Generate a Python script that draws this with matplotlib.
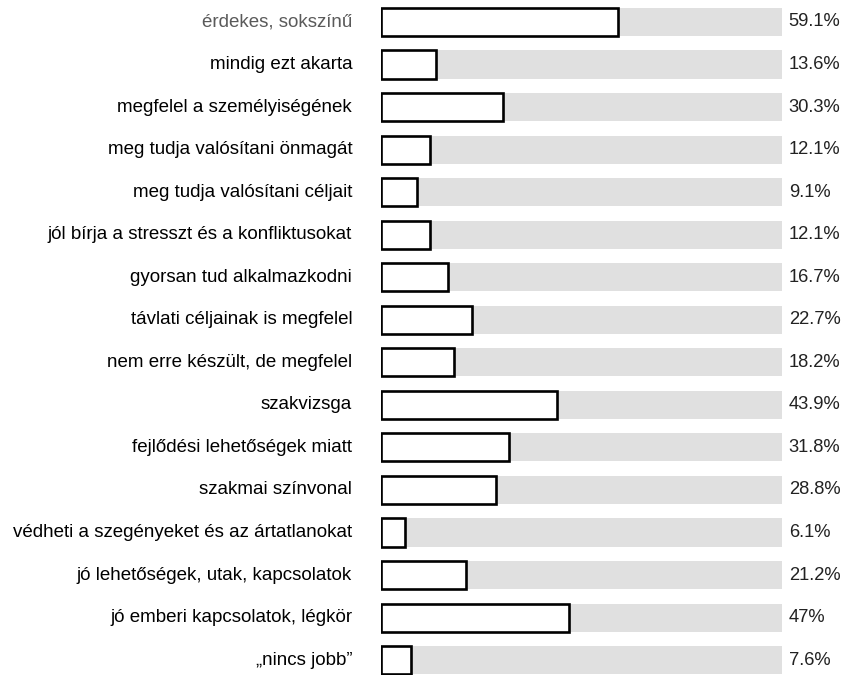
import matplotlib.pyplot as plt

plt.rcParams['font.family'] = ['Liberation Sans', 'DejaVu Sans']

labels = [
    "érdekes, sokszínű",
    "mindig ezt akarta",
    "megfelel a személyiségének",
    "meg tudja valósítani önmagát",
    "meg tudja valósítani céljait",
    "jól bírja a stresszt és a konfliktusokat",
    "gyorsan tud alkalmazkodni",
    "távlati céljainak is megfelel",
    "nem erre készült, de megfelel",
    "szakvizsga",
    "fejlődési lehetőségek miatt",
    "szakmai színvonal",
    "védheti a szegényeket és az ártatlanokat",
    "jó lehetőségek, utak, kapcsolatok",
    "jó emberi kapcsolatok, légkör",
    "„nincs jobb”",
]
values = [59.1, 13.6, 30.3, 12.1, 9.1, 12.1, 16.7, 22.7, 18.2, 43.9, 31.8, 28.8, 6.1, 21.2, 47, 7.6]
value_labels = ["59.1%", "13.6%", "30.3%", "12.1%", "9.1%", "12.1%", "16.7%", "22.7%",
                "18.2%", "43.9%", "31.8%", "28.8%", "6.1%", "21.2%", "47%", "7.6%"]

fig = plt.figure(figsize=(8.47, 6.75), dpi=100)
ax = fig.add_axes([381 / 847, 0, (782 - 381) / 847, 1])

pos = list(range(len(labels)))
h = 0.66
ax.barh(pos, [100] * len(pos), height=h, color='#e0e0e0', edgecolor='none')
ax.barh(pos, values, height=h, color='white', edgecolor='black', linewidth=1.9)

ax.set_xlim(0, 100)
ax.set_ylim(15.35, -0.517)
ax.axis('off')

for i, (lab, vl) in enumerate(zip(labels, value_labels)):
    col = '#5a5a5a' if i == 0 else 'black'
    ax.text(-7.2, i, lab, ha='right', va='center', fontsize=13.5, color=col)
    ax.text(101.7, i, vl, ha='left', va='center', fontsize=13.2, color='#222222')

fig.savefig('out.png', dpi=100)
